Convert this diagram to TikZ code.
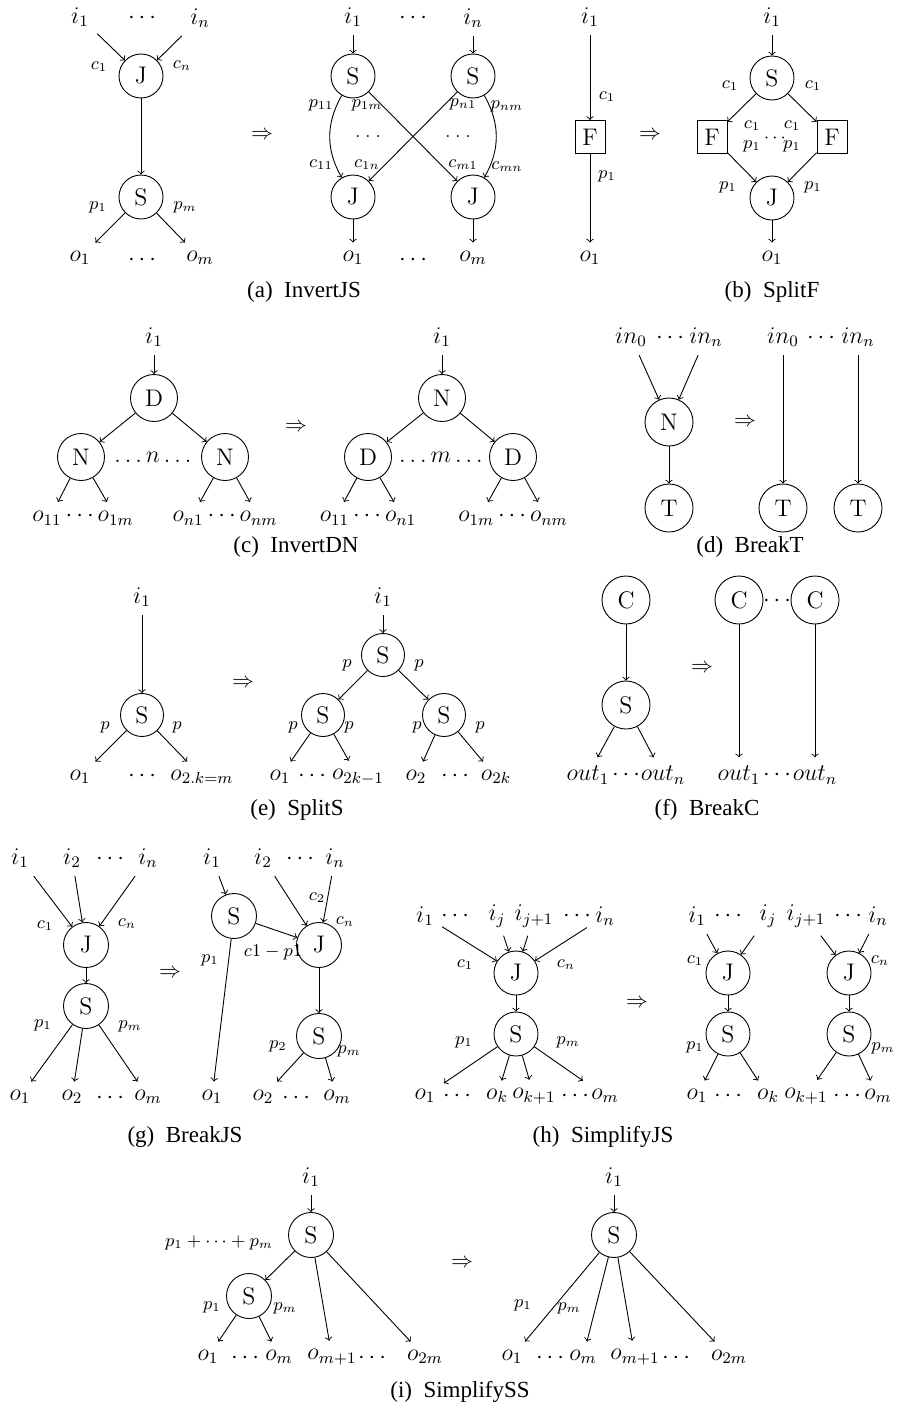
\documentclass[tikz,border=0pt]{standalone}
\usepackage{fontspec}
\newfontfamily\capff{Liberation Serif}
\newcommand\fs[1]{\fontsize{#1}{#1}\selectfont}
\newcommand\capfont{\capff\fontsize{11.5}{13}\selectfont}
\begin{document}
\begin{tikzpicture}[x=0.5pt,y=-0.5pt,line width=0.45pt,
 nd/.style={circle,draw,inner sep=0pt,minimum size=#1,font=\fs{12}},
 nd/.default=22pt,
 bx/.style={rectangle,draw,inner sep=0pt,minimum width=15pt,minimum height=16.5pt,font=\fs{12}},
 lb/.style={font=\fs{12},inner sep=4pt},
 dt/.style={font=\fs{12},inner sep=0pt,yshift=-1.5pt},
 sl/.style={font=\fs{9},inner sep=0pt},
 captxt/.style={font=\capfont},
 imp/.style={font=\fs{11}},
 ed/.style={->}]
\useasboundingbox (0,0) rectangle (896,1408);

% ================= (a) InvertJS
\node[lb] (aLi1) at (80,17) {$i_1$};
\node[dt] (aLid) at (142,15) {$\cdots$};
\node[lb] (aLin) at (200,18) {$i_n$};
\node[nd] (aLJ) at (141,76) {J};
\node[nd] (aLS) at (141,197) {S};
\node[lb] (aLo1) at (80,258) {$o_1$};
\node[dt] (aLod) at (142,257) {$\cdots$};
\node[lb] (aLom) at (200,258) {$o_m$};
\node[sl] (aLc1) at (99,67) {$c_1$};
\node[sl] (aLcn) at (182,66) {$c_n$};
\node[sl] (aLp1) at (98,207) {$p_1$};
\node[sl] (aLpm) at (185,207) {$p_m$};
\draw[ed] (aLi1) -- (aLJ);
\draw[ed] (aLin) -- (aLJ);
\draw[ed] (aLJ) -- (aLS);
\draw[ed] (aLS) -- (aLo1);
\draw[ed] (aLS) -- (aLom);
\node[imp] (aImp) at (262,135) {$\Rightarrow$};
\node[lb] (aRi1) at (353,17) {$i_1$};
\node[dt] (aRid) at (413,15) {$\cdots$};
\node[lb] (aRin) at (473,18) {$i_n$};
\node[nd] (aRS1) at (353,76) {S};
\node[nd] (aRS2) at (473,76) {S};
\node[nd] (aRJ1) at (353,197) {J};
\node[nd] (aRJ2) at (473,197) {J};
\node[lb] (aRo1) at (353,258) {$o_1$};
\node[dt] (aRod) at (413,257) {$\cdots$};
\node[lb] (aRom) at (473,258) {$o_m$};
\draw[ed] (aRi1) -- (aRS1);
\draw[ed] (aRin) -- (aRS2);
\draw[ed] (aRS1) to[bend right=30] (aRJ1);
\draw[ed] (aRS2) to[bend left=30] (aRJ2);
\draw[ed] (aRS1) -- (aRJ2);
\draw[ed] (aRS2) -- (aRJ1);
\draw[ed] (aRJ1) -- (aRo1);
\draw[ed] (aRJ2) -- (aRom);
\node[sl] (aRp11) at (321,105) {$p_{11}$};
\node[sl] (aRp1m) at (367,105) {$p_{1m}$};
\node[sl] (aRpn1) at (463,104) {$p_{n1}$};
\node[sl] (aRpnm) at (507,106) {$p_{nm}$};
\node[sl] (aRc11) at (321,165) {$c_{11}$};
\node[sl] (aRc1n) at (367,165) {$c_{1n}$};
\node[sl] (aRcm1) at (463,165) {$c_{m1}$};
\node[sl] (aRcmn) at (507,167) {$c_{mn}$};
\node[sl] (aRdl) at (368,137) {.\hspace{2.5pt}.\hspace{2.5pt}.};
\node[sl] (aRdr) at (458,137) {.\hspace{2.5pt}.\hspace{2.5pt}.};
\node[captxt] (aCap) at (304,292) {(a)\ \ InvertJS};

% ================= (b) SplitF
\node[lb] (bLi1) at (590,17) {$i_1$};
\node[bx] (bLF) at (590,137) {F};
\node[lb] (bLo1) at (590,258) {$o_1$};
\draw[ed] (bLi1) -- (bLF);
\draw[ed] (bLF) -- (bLo1);
\node[sl] (bLc1) at (607,97) {$c_1$};
\node[sl] (bLp1) at (607,176) {$p_1$};
\node[imp] (bImp) at (650,135) {$\Rightarrow$};
\node[lb] (bRi1) at (772,17) {$i_1$};
\node[nd] (bRS) at (772,78) {S};
\node[bx] (bRF1) at (712,137) {F};
\node[bx] (bRF2) at (832,137) {F};
\node[nd] (bRJ) at (772,198) {J};
\node[lb] (bRo1) at (772,258) {$o_1$};
\draw[ed] (bRi1) -- (bRS);
\draw[ed] (bRS) -- (bRF1);
\draw[ed] (bRS) -- (bRF2);
\draw[ed] (bRF1) -- (bRJ);
\draw[ed] (bRF2) -- (bRJ);
\draw[ed] (bRJ) -- (bRo1);
\node[sl] (bRc1a) at (730,86) {$c_1$};
\node[sl] (bRc1b) at (813,86) {$c_1$};
\node[sl] (bRp1a) at (728,187) {$p_1$};
\node[sl] (bRp1b) at (813,187) {$p_1$};
\node[sl] (bRmc1) at (752,126) {$c_1$};
\node[sl] (bRmc2) at (792,126) {$c_1$};
\node[sl] (bRmp1) at (752,146) {$p_1$};
\node[sl] (bRmp2) at (792,146) {$p_1$};
\node[sl] (bRmd) at (775,138) {$\cdots$};
\node[captxt] (bCap) at (772,292) {(b)\ \ SplitF};

% ================= (c) InvertDN
\node[lb] (cLi1) at (154,337) {$i_1$};
\node[nd=23.5pt] (cLD) at (154,398) {D};
\node[nd=23.5pt] (cLN1) at (81,457) {N};
\node[nd=23.5pt] (cLN2) at (225,457) {N};
\node[lb,inner sep=0pt] (cLdots) at (153,457) {$\ldots n\ldots$};
\coordinate (cLa) at (58,502);
\coordinate (cLb) at (107,502);
\coordinate (cLc) at (200,502);
\coordinate (cLd) at (250,502);
\draw[ed] (cLi1) -- (cLD);
\draw[ed] (cLD) -- (cLN1);
\draw[ed] (cLD) -- (cLN2);
\draw[ed] (cLN1) -- (cLa);
\draw[ed] (cLN1) -- (cLb);
\draw[ed] (cLN2) -- (cLc);
\draw[ed] (cLN2) -- (cLd);
\node[lb] (cLo1) at (83,518) {$o_{11}\cdots o_{1m}$};
\node[lb] (cLo2) at (225,518) {$o_{n1}\cdots o_{nm}$};
\node[imp] (cImp) at (296,427) {$\Rightarrow$};
\node[lb] (cRi1) at (442,337) {$i_1$};
\node[nd=23.5pt] (cRN) at (442,398) {N};
\node[nd=23.5pt] (cRD1) at (368,457) {D};
\node[nd=23.5pt] (cRD2) at (513,457) {D};
\node[lb,inner sep=0pt] (cRdots) at (441,457) {$\ldots m\ldots$};
\coordinate (cRa) at (344,502);
\coordinate (cRb) at (394,502);
\coordinate (cRc) at (488,502);
\coordinate (cRd) at (538,502);
\draw[ed] (cRi1) -- (cRN);
\draw[ed] (cRN) -- (cRD1);
\draw[ed] (cRN) -- (cRD2);
\draw[ed] (cRD1) -- (cRa);
\draw[ed] (cRD1) -- (cRb);
\draw[ed] (cRD2) -- (cRc);
\draw[ed] (cRD2) -- (cRd);
\node[lb] (cRo1) at (368,518) {$o_{11}\cdots o_{n1}$};
\node[lb] (cRo2) at (513,518) {$o_{1m}\cdots o_{nm}$};
\node[captxt] (cCap) at (296,547) {(c)\ \ InvertDN};

% ================= (d) BreakT
\node[lb] (dLi0) at (631,337) {$in_0$};
\node[dt] (dLid) at (670,335) {$\cdots$};
\node[lb] (dLin) at (706,337) {$in_n$};
\node[nd=24pt] (dLN) at (669,422) {N};
\node[nd=24pt] (dLT) at (669,508) {T};
\draw[ed] (dLi0) -- (dLN);
\draw[ed] (dLin) -- (dLN);
\draw[ed] (dLN) -- (dLT);
\node[imp] (dImp) at (745,422) {$\Rightarrow$};
\node[lb] (dRi0) at (783,337) {$in_0$};
\node[dt] (dRid) at (821,335) {$\cdots$};
\node[lb] (dRin) at (858,337) {$in_n$};
\node[nd=24pt] (dRT1) at (783,508) {T};
\node[nd=24pt] (dRT2) at (858,508) {T};
\draw[ed] (dRi0) -- (dRT1);
\draw[ed] (dRin) -- (dRT2);
\node[captxt] (dCap) at (750,547) {(d)\ \ BreakT};

% ================= (e) SplitS
\node[lb] (eLi1) at (142,597) {$i_1$};
\node[nd=21.5pt] (eLS) at (142,715) {S};
\node[lb] (eLo1) at (80,777) {$o_1$};
\node[dt] (eLod) at (142,773) {$\cdots$};
\node[lb] (eLo2) at (202,777) {$o_{2.k=m}$};
\draw[ed] (eLi1) -- (eLS);
\draw[ed] (eLS) -- (eLo1);
\draw[ed] (eLS) -- (eLo2);
\node[sl] (eLp1) at (105,727) {$p$};
\node[sl] (eLp2) at (177,727) {$p$};
\node[imp] (eImp) at (243,683) {$\Rightarrow$};
\node[lb] (eRi1) at (383,597) {$i_1$};
\node[nd=21.5pt] (eRS) at (383,655) {S};
\node[nd=21.5pt] (eRS1) at (323,715) {S};
\node[nd=21.5pt] (eRS2) at (444,715) {S};
\node[lb] (eRo1) at (280,777) {$o_1$};
\node[dt] (eRd1) at (312,773) {$\cdots$};
\node[lb] (eRo2) at (358,777) {$o_{2k-1}$};
\node[lb] (eRo3) at (416,777) {$o_2$};
\node[dt] (eRd2) at (455,773) {$\cdots$};
\node[lb] (eRo4) at (496,777) {$o_{2k}$};
\draw[ed] (eRi1) -- (eRS);
\draw[ed] (eRS) -- (eRS1);
\draw[ed] (eRS) -- (eRS2);
\draw[ed] (eRS1) -- (eRo1);
\draw[ed] (eRS1) -- (eRo2);
\draw[ed] (eRS2) -- (eRo3);
\draw[ed] (eRS2) -- (eRo4);
\node[sl] (eRp1) at (347,665) {$p$};
\node[sl] (eRp2) at (419,665) {$p$};
\node[sl] (eRp3) at (293,727) {$p$};
\node[sl] (eRp4) at (349,727) {$p$};
\node[sl] (eRp5) at (417,727) {$p$};
\node[sl] (eRp6) at (480,727) {$p$};
\node[captxt] (eCap) at (297,810) {(e)\ \ SplitS};

% ================= (f) BreakC
\node[nd=24pt] (fLC) at (626,600) {C};
\node[nd=24pt] (fLS) at (626,705) {S};
\node[lb] (fLo1) at (588,775) {$out_1$};
\node[dt] (fLod) at (626,772) {$\cdots$};
\node[lb] (fLon) at (663,775) {$out_n$};
\draw[ed] (fLC) -- (fLS);
\draw[ed] (fLS) -- (fLo1);
\draw[ed] (fLS) -- (fLon);
\node[imp] (fImp) at (702,668) {$\Rightarrow$};
\node[nd=24pt] (fRC1) at (739,600) {C};
\node[nd=24pt] (fRC2) at (815,600) {C};
\node[dt] (fRd) at (777,598) {$\cdots$};
\node[lb] (fRo1) at (739,775) {$out_1$};
\node[dt] (fRod) at (777,772) {$\cdots$};
\node[lb] (fRon) at (815,775) {$out_n$};
\draw[ed] (fRC1) -- (fRo1);
\draw[ed] (fRC2) -- (fRon);
\node[captxt] (fCap) at (707,810) {(f)\ \ BreakC};

% ================= (g) BreakJS
\node[lb] (gLi1) at (20,858) {$i_1$};
\node[lb] (gLi2) at (72,858) {$i_2$};
\node[dt] (gLid) at (110,856) {$\cdots$};
\node[lb] (gLin) at (148,858) {$i_n$};
\node[nd=22.5pt] (gLJ) at (86,945) {J};
\node[nd=22.5pt] (gLS) at (86,1006) {S};
\node[lb] (gLo1) at (20,1097) {$o_1$};
\node[lb] (gLo2) at (72,1097) {$o_2$};
\node[dt] (gLod) at (110,1095) {$\cdots$};
\node[lb] (gLom) at (148,1097) {$o_m$};
\draw[ed] (gLi1) -- (gLJ);
\draw[ed] (gLi2) -- (gLJ);
\draw[ed] (gLin) -- (gLJ);
\draw[ed] (gLJ) -- (gLS);
\draw[ed] (gLS) -- (gLo1);
\draw[ed] (gLS) -- (gLo2);
\draw[ed] (gLS) -- (gLom);
\node[sl] (gLc1) at (45,926) {$c_1$};
\node[sl] (gLcn) at (127,924) {$c_n$};
\node[sl] (gLp1) at (43,1025) {$p_1$};
\node[sl] (gLpm) at (130,1026) {$p_m$};
\node[imp] (gImp) at (170,973) {$\Rightarrow$};
\node[lb] (gRi1) at (212,858) {$i_1$};
\node[lb] (gRi2) at (263,858) {$i_2$};
\node[dt] (gRid) at (300,856) {$\cdots$};
\node[lb] (gRin) at (335,858) {$i_n$};
\node[nd=22.5pt] (gRS1) at (234,916) {S};
\node[nd=22.5pt] (gRJ) at (319,945) {J};
\node[nd=22.5pt] (gRS2) at (319,1036) {S};
\node[lb] (gRo1) at (212,1097) {$o_1$};
\node[lb] (gRo2) at (263,1097) {$o_2$};
\node[dt] (gRod) at (296,1095) {$\cdots$};
\node[lb] (gRom) at (337,1097) {$o_m$};
\draw[ed] (gRi1) -- (gRS1);
\draw[ed] (gRi2) -- (gRJ);
\draw[ed] (gRin) -- (gRJ);
\draw[ed] (gRS1) -- (gRJ);
\draw[ed] (gRS1) -- (gRo1);
\draw[ed] (gRJ) -- (gRS2);
\draw[ed] (gRS2) -- (gRo2);
\draw[ed] (gRS2) -- (gRom);
\node[sl] (gRc2) at (317,898) {$c_2$};
\node[sl] (gRcn) at (345,922) {$c_n$};
\node[sl] (gRcp) at (273,952) {$c1-p1$};
\node[sl] (gRp1) at (210,960) {$p_1$};
\node[sl] (gRp2) at (278,1046) {$p_2$};
\node[sl] (gRpm) at (349,1051) {$p_m$};
\node[captxt] (gCap) at (185,1137) {(g)\ \ BreakJS};

% ================= (h) SimplifyJS
\node[lb] (hLi1) at (425,916) {$i_1$};
\node[dt] (hLd1) at (455,913) {$\cdots$};
\node[lb] (hLij) at (497,916) {$i_j$};
\node[lb] (hLij1) at (534,916) {$i_{j+1}$};
\node[dt] (hLd2) at (577,913) {$\cdots$};
\node[lb] (hLin) at (605,916) {$i_n$};
\node[nd] (hLJ) at (516,973) {J};
\node[nd] (hLS) at (516,1034) {S};
\node[lb] (hLo1) at (425,1096) {$o_1$};
\node[dt] (hLe1) at (457,1093) {$\cdots$};
\node[lb] (hLok) at (497,1096) {$o_k$};
\node[lb] (hLok1) at (534,1096) {$o_{k+1}$};
\node[dt] (hLe2) at (575,1093) {$\cdots$};
\node[lb] (hLom) at (605,1096) {$o_m$};
\draw[ed] (hLi1) -- (hLJ);
\draw[ed] (hLij) -- (hLJ);
\draw[ed] (hLij1) -- (hLJ);
\draw[ed] (hLin) -- (hLJ);
\draw[ed] (hLJ) -- (hLS);
\draw[ed] (hLS) -- (hLo1);
\draw[ed] (hLS) -- (hLok);
\draw[ed] (hLS) -- (hLok1);
\draw[ed] (hLS) -- (hLom);
\node[sl] (hLc1) at (465,965) {$c_1$};
\node[sl] (hLcn) at (566,965) {$c_n$};
\node[sl] (hLp1) at (464,1042) {$p_1$};
\node[sl] (hLpm) at (568,1042) {$p_m$};
\node[imp] (hImp) at (637,1003) {$\Rightarrow$};
\node[lb] (hRi1) at (697,916) {$i_1$};
\node[dt] (hRd1) at (728,913) {$\cdots$};
\node[lb] (hRij) at (768,916) {$i_j$};
\node[lb] (hRij1) at (806,916) {$i_{j+1}$};
\node[dt] (hRd2) at (848,913) {$\cdots$};
\node[lb] (hRin) at (878,916) {$i_n$};
\node[nd] (hRJ1) at (728,973) {J};
\node[nd] (hRJ2) at (849,973) {J};
\node[nd] (hRS1) at (728,1034) {S};
\node[nd] (hRS2) at (849,1034) {S};
\node[lb] (hRo1) at (697,1096) {$o_1$};
\node[dt] (hRe1) at (728,1093) {$\cdots$};
\node[lb] (hRok) at (768,1096) {$o_k$};
\node[lb] (hRok1) at (806,1096) {$o_{k+1}$};
\node[dt] (hRe2) at (847,1093) {$\cdots$};
\node[lb] (hRom) at (878,1096) {$o_m$};
\draw[ed] (hRi1) -- (hRJ1);
\draw[ed] (hRij) -- (hRJ1);
\draw[ed] (hRij1) -- (hRJ2);
\draw[ed] (hRin) -- (hRJ2);
\draw[ed] (hRJ1) -- (hRS1);
\draw[ed] (hRJ2) -- (hRS2);
\draw[ed] (hRS1) -- (hRo1);
\draw[ed] (hRS1) -- (hRok);
\draw[ed] (hRS2) -- (hRok1);
\draw[ed] (hRS2) -- (hRom);
\node[sl] (hRc1) at (695,961) {$c_1$};
\node[sl] (hRcn) at (880,961) {$c_n$};
\node[sl] (hRp1) at (695,1047) {$p_1$};
\node[sl] (hRpm) at (883,1048) {$p_m$};
\node[captxt] (hCap) at (603,1137) {(h)\ \ SimplifyJS};

% ================= (i) SimplifySS
\node[lb] (iLi1) at (311,1177) {$i_1$};
\node[nd=22.5pt] (iLS) at (311,1235) {S};
\node[nd=22.5pt] (iLS2) at (249,1296) {S};
\node[lb] (iLo1) at (208,1357) {$o_1$};
\node[dt] (iLd1) at (245,1355) {$\cdots$};
\node[lb] (iLom) at (279,1357) {$o_m$};
\node[lb] (iLom1) at (332,1357) {$o_{m+1}$};
\node[dt] (iLd2) at (372,1355) {$\cdots$};
\node[lb] (iLo2m) at (425,1357) {$o_{2m}$};
\draw[ed] (iLi1) -- (iLS);
\draw[ed] (iLS) -- (iLS2);
\draw[ed] (iLS) -- (iLom1);
\draw[ed] (iLS) -- (iLo2m);
\draw[ed] (iLS2) -- (iLo1);
\draw[ed] (iLS2) -- (iLom);
\node[sl] (iLsum) at (219,1243) {$p_1+\cdots+p_m$};
\node[sl] (iLp1) at (212,1307) {$p_1$};
\node[sl] (iLpm) at (285,1308) {$p_m$};
\node[imp] (iImp) at (462,1263) {$\Rightarrow$};
\node[lb] (iRi1) at (614,1177) {$i_1$};
\node[nd=22.5pt] (iRS) at (614,1235) {S};
\node[lb] (iRo1) at (512,1357) {$o_1$};
\node[dt] (iRd1) at (550,1355) {$\cdots$};
\node[lb] (iRom) at (583,1357) {$o_m$};
\node[lb] (iRom1) at (635,1357) {$o_{m+1}$};
\node[dt] (iRd2) at (676,1355) {$\cdots$};
\node[lb] (iRo2m) at (729,1357) {$o_{2m}$};
\draw[ed] (iRi1) -- (iRS);
\draw[ed] (iRS) -- (iRo1);
\draw[ed] (iRS) -- (iRom);
\draw[ed] (iRS) -- (iRom1);
\draw[ed] (iRS) -- (iRo2m);
\node[sl] (iRp1) at (523,1305) {$p_1$};
\node[sl] (iRpm) at (569,1308) {$p_m$};
\node[captxt] (iCap) at (460,1392) {(i)\ \ SimplifySS};
\end{tikzpicture}
\end{document}
